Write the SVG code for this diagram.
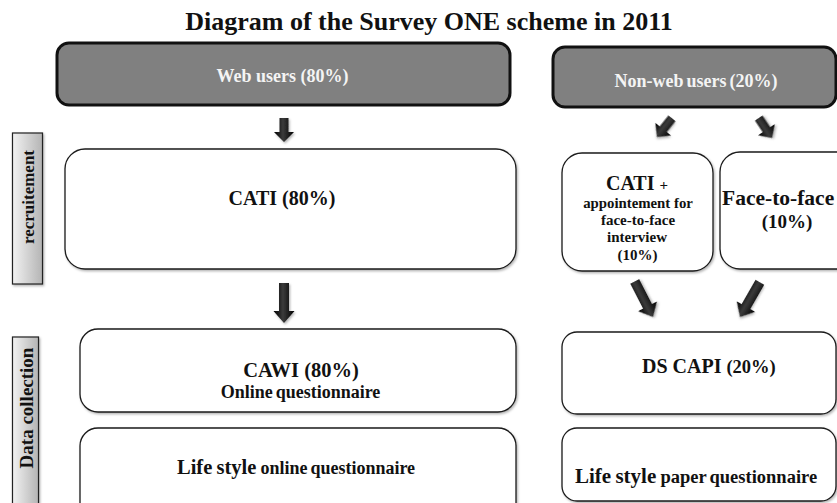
<svg xmlns="http://www.w3.org/2000/svg" width="837" height="503" viewBox="0 0 837 503">
<style>
text{font-family:"Liberation Serif","Times New Roman",serif;font-weight:bold;fill:#111}
.head{fill:#808080;stroke:#111;stroke-width:3}
.box{fill:#fff;stroke:#1a1a1a;stroke-width:1.3;filter:url(#sh)}
.lab{fill:url(#lg);stroke:#222;stroke-width:1.2;filter:url(#sh)}
.arr{fill:url(#ag);filter:url(#sh)}
.wt{fill:#f4f4f4;font-size:18px}
</style>
<defs>
<filter id="sh" x="-20%" y="-20%" width="140%" height="140%">
<feDropShadow dx="1.2" dy="1.5" stdDeviation="1" flood-color="#000" flood-opacity="0.3"/>
</filter>
<linearGradient id="lg" x1="0" y1="0" x2="1" y2="0">
<stop offset="0" stop-color="#f2f2f2"/>
<stop offset="1" stop-color="#b4b4b4"/>
</linearGradient>
<linearGradient id="ag" x1="0" y1="0" x2="1" y2="0">
<stop offset="0" stop-color="#000"/>
<stop offset="0.45" stop-color="#3a3a3a"/>
<stop offset="1" stop-color="#000"/>
</linearGradient>
<path id="a25" d="M-4.5,-24 L4.5,-24 L4.5,-10 L10,-10 L0,0 L-10,-10 L-4.5,-10 Z"/>
<path id="a40" d="M-5,-40 L5,-40 L5,-12 L10.5,-12 L0,0 L-10.5,-12 L-5,-12 Z"/>
</defs>

<text x="429" y="30" font-size="26" text-anchor="middle">Diagram of the Survey ONE scheme in 2011</text>

<g id="web-users">
<rect class="head" x="57" y="43" width="453" height="62" rx="12"/>
<text class="wt" x="282.5" y="82" text-anchor="middle">Web users (80%)</text>
</g>
<g id="non-web-users">
<rect class="head" x="553" y="47" width="283" height="60" rx="12"/>
<text class="wt" x="696" y="87" text-anchor="middle" word-spacing="-1.5">Non-web users (20%)</text>
</g>

<g id="label-recruitement">
<rect class="lab" x="12.5" y="133" width="30" height="151"/>
<text transform="translate(34,197) rotate(-90)" font-size="17" text-anchor="middle">recruitement</text>
</g>
<g id="label-data-collection">
<rect class="lab" x="12.5" y="337" width="26" height="180"/>
<text transform="translate(33,408) rotate(-90)" font-size="19" text-anchor="middle">Data collection</text>
</g>

<g id="cati">
<rect class="box" x="65" y="149" width="451" height="120" rx="20"/>
<text x="282" y="205" font-size="20" text-anchor="middle">CATI (80%)</text>
</g>
<g id="cati-appointment">
<rect class="box" x="562" y="153" width="151" height="118" rx="20"/>
<text x="637" y="190" font-size="20" text-anchor="middle">CATI <tspan font-size="15">+</tspan></text>
<text x="638" y="208" font-size="14.8" text-anchor="middle">appointement for</text>
<text x="638" y="225" font-size="15" text-anchor="middle">face-to-face</text>
<text x="637" y="242" font-size="15" text-anchor="middle">interview</text>
<text x="637.5" y="260" font-size="15" text-anchor="middle">(10%)</text>
</g>
<g id="face-to-face">
<rect class="box" x="720" y="152" width="140" height="117" rx="20"/>
<text x="722" y="205" font-size="21.5">Face-to-face</text>
<text x="787" y="228" font-size="19" text-anchor="middle">(10%)</text>
</g>

<g id="cawi">
<rect class="box" x="80" y="329" width="436" height="83" rx="18"/>
<text x="301" y="377" font-size="20.5" text-anchor="middle">CAWI (80%)</text>
<text x="300.5" y="398" font-size="18" text-anchor="middle" word-spacing="-1.5">Online questionnaire</text>
</g>
<g id="lifestyle-online">
<rect class="box" x="80" y="428" width="436" height="95" rx="18"/>
<text x="177" y="474" font-size="20.5" word-spacing="-1">Life style <tspan font-size="18" word-spacing="-1.5">online questionnaire</tspan></text>
</g>
<g id="ds-capi">
<rect class="box" x="562" y="332" width="274" height="82" rx="15"/>
<text x="642" y="373" font-size="20">DS CAPI <tspan font-size="18.5">(20%)</tspan></text>
</g>
<g id="lifestyle-paper">
<rect class="box" x="562" y="428" width="274" height="73" rx="15"/>
<text x="575" y="483" font-size="21" word-spacing="-1">Life style <tspan font-size="18.5" word-spacing="-1.5">paper questionnaire</tspan></text>
</g>

<g id="connectors">
<use href="#a25" class="arr" transform="translate(284,142)"/>
<use href="#a25" class="arr" transform="translate(657,137) rotate(38.7)"/>
<use href="#a25" class="arr" transform="translate(772,138) rotate(-33.7)"/>
<use href="#a40" class="arr" transform="translate(284,323)"/>
<use href="#a40" class="arr" transform="translate(653,317) rotate(-27.2)"/>
<use href="#a40" class="arr" transform="translate(740,317) rotate(29.8)"/>
</g>
</svg>
